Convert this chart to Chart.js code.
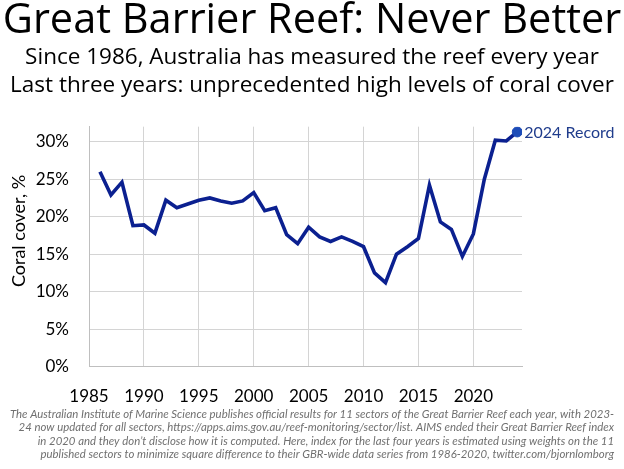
<!DOCTYPE html>
<html>
<head>
<meta charset="utf-8">
<script src="https://cdn.jsdelivr.net/npm/chart.js@4.4.1/dist/chart.umd.min.js"></script>
<style>
  html, body { margin: 0; padding: 0; background: #fff; }
  #wrap { width: 624px; height: 469px; }
</style>
</head>
<body>
<div id="wrap"><canvas id="mycanvas" width="624" height="469"></canvas></div>
<script>
// coral cover, one value per year
var years = [1986, 1987, 1988, 1989, 1990, 1991, 1992, 1993, 1994, 1995,
             1996, 1997, 1998, 1999, 2000, 2001, 2002, 2003, 2004, 2005,
             2006, 2007, 2008, 2009, 2010, 2011, 2012, 2013, 2014, 2015,
             2016, 2017, 2018, 2019, 2020, 2021, 2022, 2023, 2024];
var cover = [26.0, 22.9, 24.6, 18.8, 18.9, 17.8, 22.2, 21.2, 21.7, 22.2,
             22.5, 22.1, 21.8, 22.1, 23.2, 20.8, 21.2, 17.6, 16.4, 18.6,
             17.3, 16.7, 17.3, 16.7, 16.0, 12.5, 11.2, 15.0, 16.0, 17.1,
             24.2, 19.3, 18.3, 14.7, 17.7, 25.0, 30.2, 30.1, 31.3];

var xTicks = [1985, 1990, 1995, 2000, 2005, 2010, 2015, 2020];
var yTicks = [0, 5, 10, 15, 20, 25, 30];

var titleText = "Great Barrier Reef: Never Better";
var subtitleLines = ["Since 1986, Australia has measured the reef every year",
                     "Last three years: unprecedented high levels of coral cover"];
var yAxisLabel = "Coral cover, %";
var recordLabel = "2024 Record";
var footerLines = [
  "The Australian Institute of Marine Science publishes official results for 11 sectors of the Great Barrier Reef each year, with 2023-",
  "24 now updated for all sectors, https://apps.aims.gov.au/reef-monitoring/sector/list. AIMS ended their Great Barrier Reef index",
  "in 2020 and they don\u2019t disclose how it is computed. Here, index for the last four years is estimated using weights on the 11",
  "published sectors to minimize square difference to their GBR-wide data series from 1986-2020, twitter.com/bjornlomborg"
];

var points = [];
for (var i = 0; i < years.length; i++) {
  points.push({x: years[i], y: cover[i]});
}
var last = points.length - 1;

var FONT = "Lato, 'DejaVu Sans', sans-serif";
var HEAD = "'Open Sans', Lato, sans-serif";

// y axis label (sits a bit above centre in the original), note next to
// the last point, grey source note at the bottom
var notesPlugin = {
  id: 'notes',
  afterDraw: function(chart) {
    var ctx = chart.ctx;
    var pt = chart.getDatasetMeta(0).data[last];
    ctx.save();
    ctx.font = "18px " + FONT;
    ctx.fillStyle = "#000";
    ctx.textAlign = "center";
    ctx.textBaseline = "middle";
    ctx.translate(19, 231);
    ctx.rotate(-Math.PI / 2);
    ctx.fillText(yAxisLabel, 0, 0);
    ctx.restore();

    ctx.save();
    ctx.font = "16px " + FONT;
    ctx.fillStyle = "#1f3c8c";
    ctx.textAlign = "left";
    ctx.textBaseline = "middle";
    ctx.fillText(recordLabel, pt.x + 7, pt.y + 1);

    ctx.font = "italic 11.4px " + FONT;
    ctx.fillStyle = "#707070";
    ctx.textAlign = "right";
    ctx.textBaseline = "alphabetic";
    for (var k = 0; k < footerLines.length; k++) {
      ctx.fillText(footerLines[k], 614, 418 + k * 13.4);
    }
    ctx.restore();
  }
};

function setTicks(list) {
  return function(scale) {
    scale.ticks = list.map(function(v) { return {value: v}; });
  };
}

var ctx = document.getElementById("mycanvas");

var reefChart = new Chart(ctx, {
  type: 'line',
  data: {
    datasets: [{
      data: points,
      borderColor: "#0b2090",
      borderWidth: 3.6,
      fill: false,
      tension: 0,
      pointRadius: function(c) { return c.dataIndex === last ? 5 : 0; },
      pointBackgroundColor: "#1d4cb8",
      pointBorderColor: "#1d4cb8",
      pointBorderWidth: 1
    }]
  },
  options: {
    responsive: false,
    animation: false,
    layout: { padding: 0 },
    scales: {
      x: {
        type: 'linear',
        min: 1985,
        max: 2024.43,
        afterBuildTicks: setTicks(xTicks),
        afterFit: function(scale) { scale.height = 102.3; },
        grid: { color: "#d4d4d4", lineWidth: 1, drawTicks: false },
        border: { color: "#bfbfbf" },
        ticks: {
          padding: 20,
          color: "#000",
          font: { family: FONT, size: 17 },
          maxRotation: 0,
          callback: function(v) { return String(v); }
        }
      },
      y: {
        min: 0,
        max: 32,
        afterBuildTicks: setTicks(yTicks),
        afterFit: function(scale) { scale.width = 89; },
        grid: { color: "#d4d4d4", lineWidth: 1, drawTicks: false },
        border: { color: "#bfbfbf" },
        ticks: {
          padding: 20,
          color: "#000",
          font: { family: FONT, size: 17 },
          callback: function(v) { return v + "%"; }
        }
      },
      // empty axis on the right only keeps room for the "2024 Record" note
      spacer: {
        position: 'right',
        display: true,
        grid: { display: false, drawTicks: false },
        border: { display: false },
        ticks: { display: false },
        afterFit: function(scale) { scale.width = 102; }
      }
    },
    plugins: {
      legend: { display: false },
      tooltip: { enabled: false },
      title: {
        display: true,
        text: titleText,
        color: "#000",
        font: { family: HEAD, size: 41.5, weight: 'normal', lineHeight: 1.0 },
        padding: { top: 0, bottom: 2.5 }
      },
      subtitle: {
        display: true,
        text: subtitleLines,
        color: "#000",
        font: { family: HEAD, size: 22.5, lineHeight: 1.244 },
        padding: { top: 0, bottom: 26.7 }
      }
    }
  },
  plugins: [notesPlugin]
});
</script>
</body>
</html>
